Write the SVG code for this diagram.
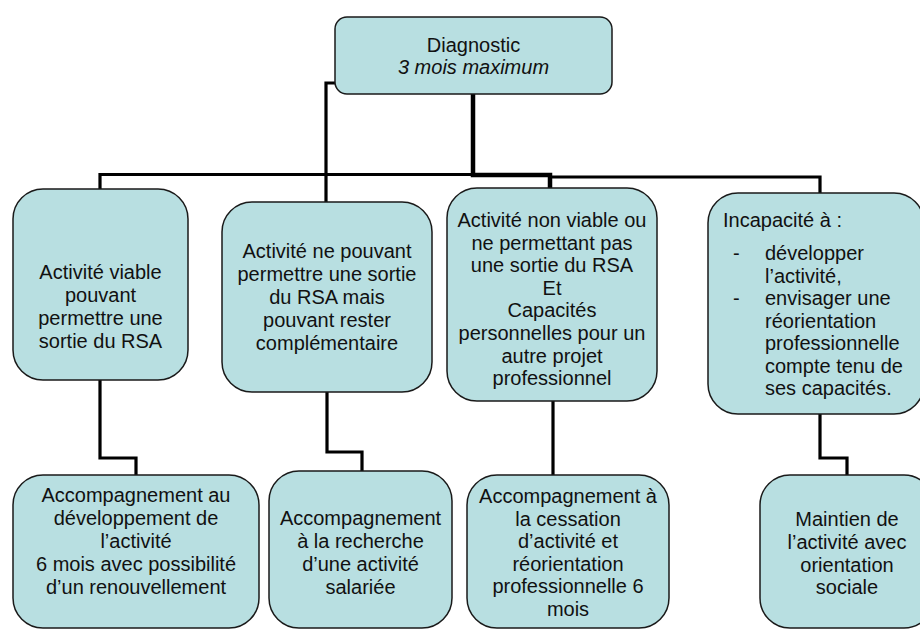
<svg xmlns="http://www.w3.org/2000/svg" width="920" height="630" viewBox="0 0 920 630">
<style>
.box{fill:#B8DFE1;stroke:#1a1a1a;stroke-width:1.5}
text{font-family:"Liberation Sans",Arial,sans-serif;font-size:20px;fill:#111}
.c{text-anchor:middle}
.ln{fill:none;stroke:#000;stroke-width:3.2;stroke-linejoin:miter}
</style>
<rect width="920" height="630" fill="#fff"/>
<g id="connectors">
<path class="ln" d="M335 83 H326 V202"/>
<path class="ln" d="M100 189 V174.5 H550"/>
<path class="ln" d="M550 177 H820 V193"/>
<path class="ln" d="M473 94 V175 H550 V188" style="stroke-width:4.5"/>
<path class="ln" d="M100 380 V458 H136 V475"/>
<path class="ln" d="M327 392 V452 H362 V471"/>
<path class="ln" d="M553 401 V475"/>
<path class="ln" d="M820 414 V458 H847 V475"/>
</g>
<g id="diagnostic">
<rect class="box" x="335" y="17" width="277" height="77" rx="12"/>
<text class="c" x="473.5" y="52">Diagnostic</text>
<text class="c" x="473.5" y="74" font-style="italic">3 mois maximum</text>
</g>
<g id="viable">
<rect class="box" x="13" y="189" width="175" height="191" rx="30"/>
<text class="c" x="100.5"><tspan x="100.5" y="279">Activité viable</tspan><tspan x="100.5" y="302">pouvant</tspan><tspan x="100.5" y="325">permettre une</tspan><tspan x="100.5" y="348">sortie du RSA</tspan></text>
</g>
<g id="complementaire">
<rect class="box" x="222" y="202" width="210" height="190" rx="30"/>
<text class="c"><tspan x="327" y="258">Activité ne pouvant</tspan><tspan x="327" y="281">permettre une sortie</tspan><tspan x="327" y="304">du RSA mais</tspan><tspan x="327" y="327">pouvant rester</tspan><tspan x="327" y="350">complémentaire</tspan></text>
</g>
<g id="non-viable">
<rect class="box" x="447" y="188" width="210" height="213" rx="30"/>
<text class="c"><tspan x="552" y="227">Activité non viable ou</tspan><tspan x="552" y="249.6">ne permettant pas</tspan><tspan x="552" y="272.2">une sortie du RSA</tspan><tspan x="552" y="294.8">Et</tspan><tspan x="552" y="317.4">Capacités</tspan><tspan x="552" y="340">personnelles pour un</tspan><tspan x="552" y="362.6">autre projet</tspan><tspan x="552" y="385.2">professionnel</tspan></text>
</g>
<g id="incapacite">
<rect class="box" x="708" y="193" width="216" height="221" rx="30"/>
<text x="723" y="227">Incapacité à :</text>
<text x="733" y="260">-</text>
<text x="733" y="305">-</text>
<text><tspan x="765" y="260">développer</tspan><tspan x="765" y="282.5">l’activité,</tspan><tspan x="765" y="305">envisager une</tspan><tspan x="765" y="327.5">réorientation</tspan><tspan x="765" y="350">professionnelle</tspan><tspan x="765" y="372.5">compte tenu de</tspan><tspan x="765" y="395">ses capacités.</tspan></text>
</g>
<g id="developpement">
<rect class="box" x="13" y="475" width="246" height="153" rx="30"/>
<text class="c"><tspan x="136" y="502">Accompagnement au</tspan><tspan x="136" y="525">développement de</tspan><tspan x="136" y="548">l’activité</tspan><tspan x="136" y="571">6 mois avec possibilité</tspan><tspan x="136" y="594">d’un renouvellement</tspan></text>
</g>
<g id="salariee">
<rect class="box" x="269" y="471" width="183" height="157" rx="30"/>
<text class="c"><tspan x="360.5" y="525">Accompagnement</tspan><tspan x="360.5" y="548">à la recherche</tspan><tspan x="360.5" y="571">d’une activité</tspan><tspan x="360.5" y="594">salariée</tspan></text>
</g>
<g id="cessation">
<rect class="box" x="467" y="475" width="202" height="153" rx="30"/>
<text class="c"><tspan x="568" y="503">Accompagnement à</tspan><tspan x="568" y="525.5">la cessation</tspan><tspan x="568" y="548">d’activité et</tspan><tspan x="568" y="570.5">réorientation</tspan><tspan x="568" y="593">professionnelle 6</tspan><tspan x="568" y="615.5">mois</tspan></text>
</g>
<g id="sociale">
<rect class="box" x="760" y="475" width="174" height="153" rx="30"/>
<text class="c"><tspan x="847" y="526">Maintien  de</tspan><tspan x="847" y="549">l’activité avec</tspan><tspan x="847" y="572">orientation</tspan><tspan x="847" y="594">sociale</tspan></text>
</g>
</svg>
